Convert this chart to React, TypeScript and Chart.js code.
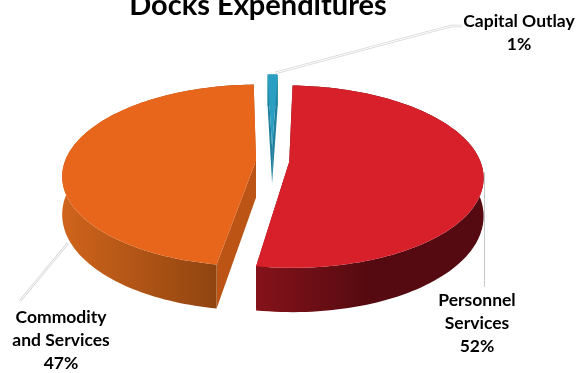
import React, { useEffect, useRef } from "react";
import { Chart, registerables } from "chart.js";

Chart.register(...registerables);

const chartTitle = "Docks Expenditures";
const categories = ["Personnel Services", "Commodity and Services", "Capital Outlay"];
const shares = [52, 47, 1];
const sliceColors = ["#D8202A", "#E8651C", "#2A9FC2"];
const sliceOffsets = [13.5, 12.5, 24];

// Callout wording and placement, one entry per category.
const calloutLines = [["Personnel", "Services"], ["Commodity", "and Services"], ["Capital Outlay"]];
const calloutAnchors = [[477, 300], [61, 317], [519, 21]];
const leaderPaths = [
  [[484.5, 172], [484.5, 287]],
  [[68, 243], [20, 301]],
  [[275, 73], [451, 26], [462, 26]],
];

// Perspective parameters for the tilted disc.
const DISC_RX = 191;
const DISC_RY = 88.5;
const PERSPECTIVE = 0.163;
const WALL_DEPTH = 37;

type Pt = [number, number];

const pie3dPlugin = {
  id: "pie3d",
  beforeDatasetsDraw(chart: any) {
    const { ctx } = chart;
    const arcs = chart.getDatasetMeta(0).data;

    const drawPoly = (pts: Pt[], fill: any) => {
      ctx.beginPath();
      pts.forEach((p, i) => (i ? ctx.lineTo(p[0], p[1]) : ctx.moveTo(p[0], p[1])));
      ctx.closePath();
      ctx.fillStyle = fill;
      ctx.fill();
    };

    ctx.save();

    // Leader lines sit underneath the slices.
    leaderPaths.forEach((path, i) => {
      const trace = () => {
        ctx.beginPath();
        path.forEach((p, j) => (j ? ctx.lineTo(p[0], p[1]) : ctx.moveTo(p[0], p[1])));
      };
      if (i === 0) {
        ctx.strokeStyle = "#C8C8C8";
        ctx.lineWidth = 1;
        trace();
        ctx.stroke();
      } else {
        ctx.strokeStyle = "#D8D8D8";
        ctx.lineWidth = 2.6;
        trace();
        ctx.stroke();
        ctx.strokeStyle = "#FFFFFF";
        ctx.lineWidth = 1;
        trace();
        ctx.stroke();
      }
    });

    // Slices are painted back to front: capital, commodity, personnel.
    [2, 1, 0].forEach((index) => {
      const arc = arcs[index];
      const radius = arc.outerRadius;
      const mid = (arc.startAngle + arc.endAngle) / 2;
      const shift = (arc.options.offset || 0) / radius;
      const ou = shift * Math.cos(mid);
      const ov = shift * Math.sin(mid);

      const project = (u: number, v: number, lift: number): Pt => {
        const s = 1 / (1 - PERSPECTIVE * v);
        return [arc.x + DISC_RX * u * s, arc.y + DISC_RY * v * s + lift * WALL_DEPTH * s];
      };

      const rim = (lift: number): Pt[] => {
        const pts: Pt[] = [];
        const steps = 120;
        for (let i = 0; i <= steps; i++) {
          const a = arc.startAngle + ((arc.endAngle - arc.startAngle) * i) / steps;
          pts.push(project(ou + Math.cos(a), ov + Math.sin(a), lift));
        }
        return pts;
      };

      const topRim = rim(0);
      const bottomRim = rim(1);
      const hubTop = project(ou, ov, 0);
      const hubBottom = project(ou, ov, 1);
      const last = topRim.length - 1;

      const cutColor = index === 1 ? "#BB5415" : index === 0 ? "#7A0F16" : "#1F7F9C";
      drawPoly([hubTop, topRim[0], bottomRim[0], hubBottom], cutColor);
      drawPoly([hubTop, topRim[last], bottomRim[last], hubBottom], cutColor);

      let wallFill: any = "#1F86A6";
      if (index === 0) {
        const g = ctx.createLinearGradient(260, 0, 370, 0);
        g.addColorStop(0, "#84121A");
        g.addColorStop(1, "#540A10");
        wallFill = g;
      } else if (index === 1) {
        const g = ctx.createLinearGradient(62, 0, 215, 0);
        g.addColorStop(0, "#D0641C");
        g.addColorStop(1, "#904510");
        wallFill = g;
      }
      drawPoly([...topRim, ...bottomRim.slice().reverse()], wallFill);

      drawPoly([hubTop, ...topRim], sliceColors[index]);
    });

    // Title and callouts.
    ctx.fillStyle = "#000000";
    ctx.textAlign = "center";
    ctx.font = "bold 29px Lato";
    ctx.textBaseline = "alphabetic";
    ctx.fillText(chartTitle, 258, 15);
    ctx.textBaseline = "middle";
    ctx.font = "bold 17.5px Lato";
    categories.forEach((_, i) => {
      const [x, y] = calloutAnchors[i];
      const rows = [...calloutLines[i], `${shares[i]}%`];
      rows.forEach((row, r) => ctx.fillText(row, x, y + r * 23));
    });

    ctx.restore();
    return false;
  },
};

export default function App() {
  const ref = useRef<HTMLCanvasElement>(null);

  useEffect(() => {
    const chart = new Chart(ref.current as HTMLCanvasElement, {
      type: "pie",
      data: {
        labels: categories,
        datasets: [
          {
            data: shares,
            backgroundColor: sliceColors,
            offset: sliceOffsets,
            borderWidth: 0,
          },
        ],
      },
      options: {
        responsive: false,
        animation: false,
        rotation: 2,
        layout: { padding: { right: 32, bottom: 51 } },
        plugins: { legend: { display: false }, tooltip: { enabled: false }, title: { display: false } },
      },
      plugins: [pie3dPlugin],
    } as any);
    return () => chart.destroy();
  }, []);

  return (
    <div style={{ position: "fixed", left: 0, top: 0, width: 576, height: 373, background: "#FFFFFF", overflow: "hidden" }}>
      <canvas ref={ref} width={576} height={373} style={{ display: "block" }} />
    </div>
  );
}
